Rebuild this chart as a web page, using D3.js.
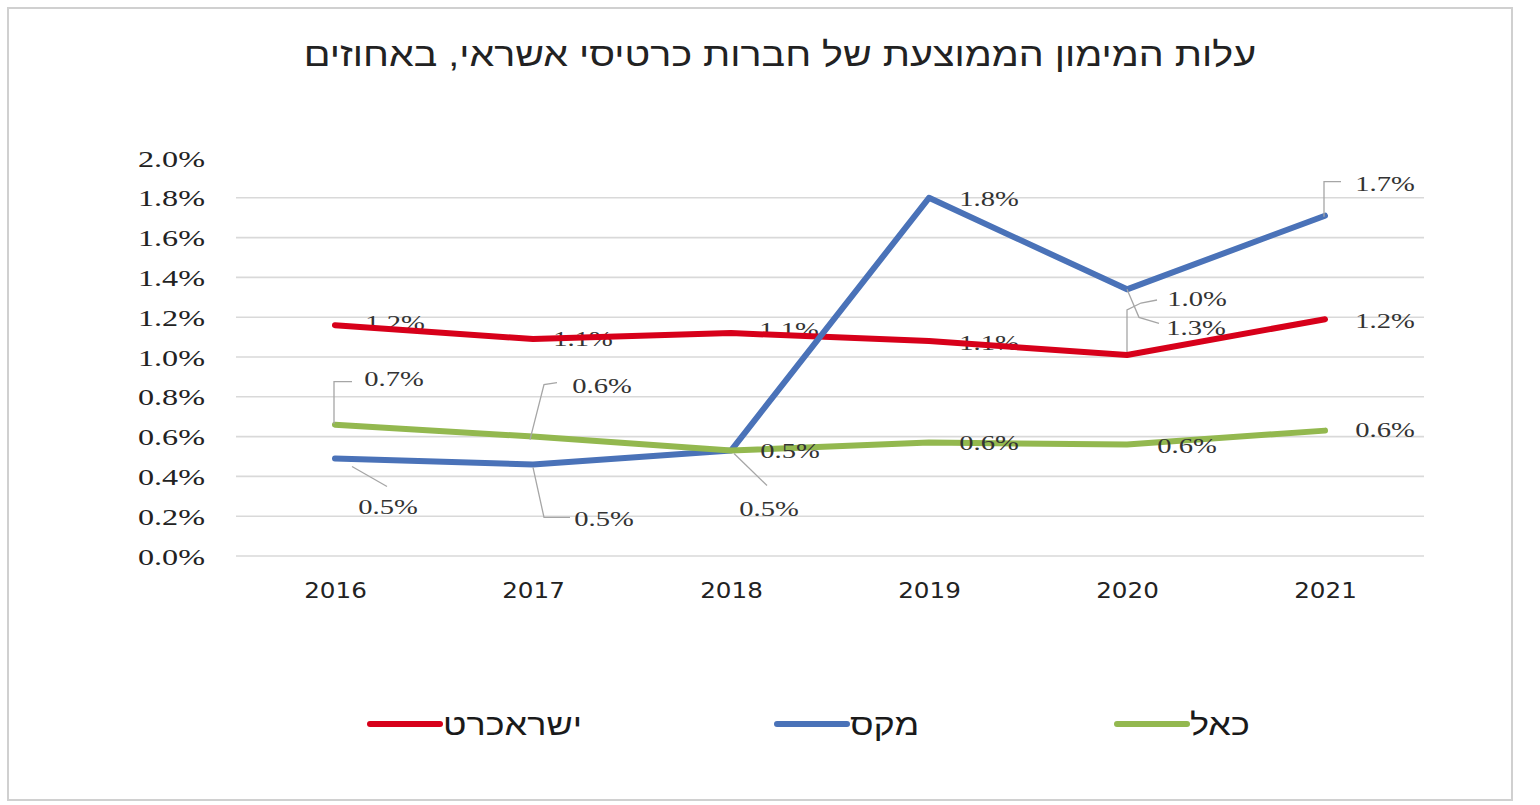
<!DOCTYPE html>
<html><head><meta charset="utf-8">
<script src="https://cdn.jsdelivr.net/npm/d3@7"></script>
<style>
html,body{margin:0;padding:0;background:#fff;}
svg{display:block;}
</style></head>
<body>
<svg id="chart" width="1540" height="805"></svg>
<script>
// ---- data ----
const years = ["2016","2017","2018","2019","2020","2021"];
const isracard = [0.0116, 0.0109, 0.0112, 0.0108, 0.0101, 0.0119];
const max = [0.0049, 0.0046, 0.0053, 0.0180, 0.0134, 0.0171];
const cal = [0.0066, 0.0060, 0.0053, 0.0057, 0.0056, 0.0063];
const seriesNames = ["ישראכרט", "מקס", "כאל"];
const yTicks = [0, 0.002, 0.004, 0.006, 0.008, 0.010, 0.012, 0.014, 0.016, 0.018, 0.020];
const title = "עלות המימון הממוצעת של חברות כרטיסי אשראי, באחוזים";

// ---- styling / layout ----
const colors = ["#d7001a", "#4a72b8", "#93b84f"];
const svg = d3.select("#chart");

// label placements (text centre offset from point; leader as relative points)
const labelLayout = [
  [{dx:60,dy:-3},{dx:50,dy:-1},{dx:58,dy:-4},{dx:60,dy:1},{dx:70,dy:-57,leader:[[0,0],[0,-45],[14,-52],[30,-55]]},{dx:60,dy:1}],
  [{dx:53,dy:48,leader:[[17,8],[52,28]]},{dx:71,dy:54,leader:[[0,3],[11,53],[37,53]]},{dx:38,dy:58,leader:[[3,3],[36,35]]},{dx:60,dy:0},{dx:69,dy:38,leader:[[0,0],[12,28],[32,34]]},{dx:60,dy:-32,leader:[[-1,1],[-1,-34],[16,-34]]}],
  [{dx:59,dy:-46,leader:[[-1,-1],[-1,-43],[17,-43]]},{dx:69,dy:-51,leader:[[-3,3],[11,-52],[24,-54]]},{dx:59,dy:0},{dx:60,dy:0},{dx:60,dy:1},{dx:60,dy:-1}]
];

// frame
svg.append("rect").attr("x",8).attr("y",8).attr("width",1504).attr("height",792)
  .attr("fill","#fff").attr("stroke","#d0d0d0").attr("stroke-width",2);

// title
svg.append("text").attr("transform","translate(780,66) scale(1.16,1)").attr("text-anchor","middle")
  .attr("direction","rtl")
  .style("font-family","'Liberation Sans', 'DejaVu Sans', sans-serif")
  .style("font-size","34px").attr("fill","#222").text(title);

// scales
const x = d3.scalePoint().domain(years).range([335,1325]);
const y = d3.scaleLinear().domain([0,0.02]).range([556,158]);

// gridlines (Excel-like: no line at the top value)
svg.append("g").selectAll("line").data(yTicks.filter(d=>d<0.0199)).join("line")
  .attr("x1",236).attr("x2",1424)
  .attr("y1",d=>y(d)).attr("y2",d=>y(d))
  .attr("stroke","#d9d9d9").attr("stroke-width",1.6);

// y axis labels
const yAxis = svg.append("g").attr("transform","translate(205,0)")
  .call(d3.axisLeft(y).tickValues(yTicks).tickFormat(d3.format(".1%")).tickSize(0).tickPadding(0));
yAxis.select(".domain").remove();
yAxis.selectAll(".tick text")
  .style("font-family","'Liberation Serif', serif").style("font-size","23px").attr("fill","#222")
  .attr("x",0).attr("dy","0.35em").attr("transform","scale(1.4,1)");

// x axis labels
const xAxis = svg.append("g").attr("transform","translate(0,574)")
  .call(d3.axisBottom(x).tickSize(0).tickPadding(8));
xAxis.select(".domain").remove();
xAxis.selectAll(".tick text")
  .style("font-family","'DejaVu Sans', sans-serif").style("font-size","22px").attr("fill","#222")
  .attr("transform","scale(1.12,1)");

const allSeries = [isracard, max, cal];
const line = d3.line().x((d,i)=>x(years[i])).y(d=>y(d));
const fmt = d3.format(".1%");

function drawLabels(si){
  const g = svg.append("g");
  allSeries[si].forEach((v,i)=>{
    const L = labelLayout[si][i];
    const px = x(years[i]), py = y(v);
    if (L.leader){
      g.append("path").attr("d", d3.line()(L.leader.map(p=>[px+p[0],py+p[1]])))
        .attr("fill","none").attr("stroke","#a6a6a6").attr("stroke-width",1.3);
    }
    g.append("text").attr("transform",`translate(${px+L.dx},${py+L.dy}) scale(1.3,1)`)
      .attr("dy","0.35em").attr("text-anchor","middle")
      .style("font-family","'Liberation Serif', serif").style("font-size","22px")
      .attr("fill","#333").text(fmt(v));
  });
}
function drawLine(si){
  svg.append("path").datum(allSeries[si]).attr("d",line)
    .attr("fill","none").attr("stroke",colors[si]).attr("stroke-width",6)
    .attr("stroke-linejoin","round").attr("stroke-linecap","round");
}
drawLabels(0);
drawLine(0); drawLine(1); drawLine(2);
drawLabels(1); drawLabels(2);

// legend
const legendItems = [
  {name: seriesNames[0], c: colors[0], x0: 370},
  {name: seriesNames[1], c: colors[1], x0: 777},
  {name: seriesNames[2], c: colors[2], x0: 1117}
];
const lg = svg.append("g");
legendItems.forEach(it=>{
  lg.append("line").attr("x1",it.x0).attr("x2",it.x0+70).attr("y1",724).attr("y2",724)
    .attr("stroke",it.c).attr("stroke-width",6).attr("stroke-linecap","round");
  lg.append("text").attr("transform",`translate(${it.x0+73},724) scale(1.2,1)`).attr("dy","0.35em")
    .attr("text-anchor","start")
    .style("font-family","'Liberation Sans', sans-serif").style("font-size","30px")
    .attr("fill","#1a1a1a").text(it.name);
});
</script>
</body></html>
